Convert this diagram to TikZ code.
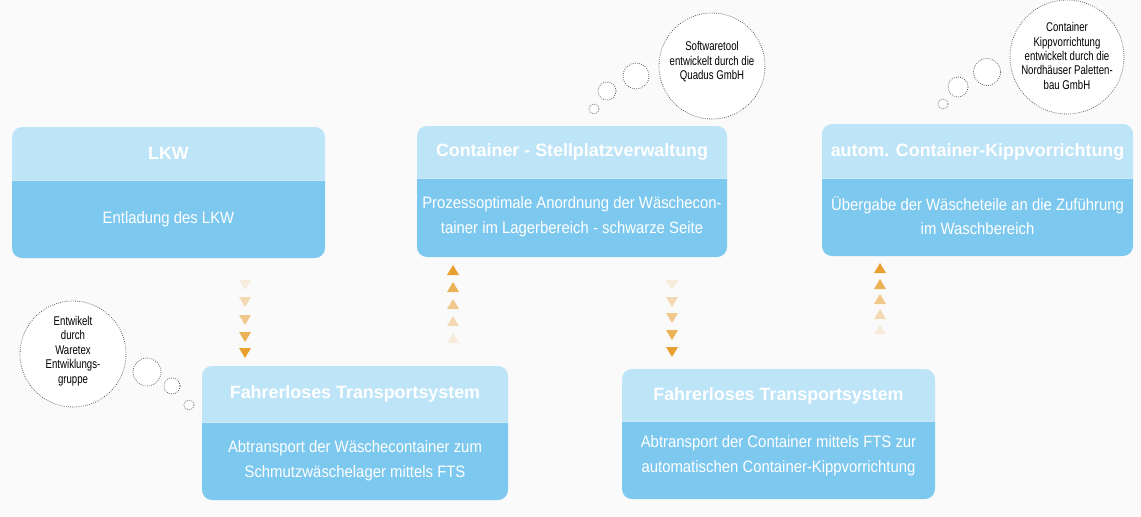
\documentclass[tikz,border=0pt]{standalone}
\usepackage{fontspec}
\setmainfont{Liberation Sans}
\newfontfamily\feldfont{Liberation Sans}[FakeStretch=0.9]
\newfontfamily\blasenfont{Liberation Sans}[FakeStretch=0.76]

\definecolor{kopfblau}{RGB}{190,228,247}
\definecolor{feldblau}{RGB}{125,200,238}
\definecolor{pfeilorange}{RGB}{232,160,48}
\definecolor{punktgrau}{RGB}{95,95,95}
\definecolor{papier}{RGB}{250,250,251}

\tikzset{every picture/.style={line width=0.75pt},
  kopf/.style={anchor=center, inner sep=0.75pt, text=white, font=\bfseries\fontsize{13.4}{16}\selectfont},
  feld/.style={anchor=center, inner sep=0.75pt, text=white, align=center, font=\feldfont\fontsize{12.4}{18.5}\selectfont},
  blase/.style={draw=punktgrau, densely dotted, fill=white, line width=0.6pt},
  blasentext/.style={anchor=center, inner sep=0.75pt, align=center, font=\blasenfont\fontsize{9.5}{10.8}\selectfont},
}

\begin{document}
\begin{tikzpicture}[x=0.75pt,y=0.75pt,yscale=-1,xscale=1]
%set diagram left start at 0, and has height of 517
\fill [papier] (0,0) rectangle (1141,517);
\useasboundingbox (0,0) rectangle (1141,517);

%Shape: Rounded Rect (LKW)
\fill [kopfblau, rounded corners=7.5pt] (12,180) -- (12,127) -- (325,127) -- (325,180);
\fill [feldblau, rounded corners=7.5pt] (12,180) -- (12,258) -- (325,258) -- (325,180);
\draw [white, opacity=0.6] (12,180) -- (325,180);
%Shape: Rounded Rect (Stellplatz)
\fill [kopfblau, rounded corners=7.5pt] (417,178) -- (417,126) -- (727,126) -- (727,178);
\fill [feldblau, rounded corners=7.5pt] (417,178) -- (417,257) -- (727,257) -- (727,178);
\draw [white, opacity=0.6] (417,178) -- (727,178);
%Shape: Rounded Rect (Kippvorrichtung)
\fill [kopfblau, rounded corners=7.5pt] (822,178) -- (822,124) -- (1133,124) -- (1133,178);
\fill [feldblau, rounded corners=7.5pt] (822,178) -- (822,256) -- (1133,256) -- (1133,178);
\draw [white, opacity=0.6] (822,178) -- (1133,178);
%Shape: Rounded Rect (FTS links)
\fill [kopfblau, rounded corners=7.5pt] (202,422) -- (202,366) -- (508,366) -- (508,422);
\fill [feldblau, rounded corners=7.5pt] (202,422) -- (202,500) -- (508,500) -- (508,422);
\draw [white, opacity=0.6] (202,422) -- (508,422);
%Shape: Rounded Rect (FTS rechts)
\fill [kopfblau, rounded corners=7.5pt] (622,421) -- (622,369) -- (935,369) -- (935,421);
\fill [feldblau, rounded corners=7.5pt] (622,421) -- (622,499) -- (935,499) -- (935,421);
\draw [white, opacity=0.6] (622,421) -- (935,421);

% Text Node
\draw (168.5,153) node [kopf] (lkw) {LKW};
\draw (168.5,219) node [feld] (lkwtext) {Entladung des LKW};
% Text Node
\draw (572,152) node [kopf] (stellplatz) {Container - Stellplatzverwaltung};
\draw (572,216.5) node [feld] (stellplatztext) {Prozessoptimale Anordnung der Wäschecon-\\tainer im Lagerbereich - schwarze Seite};
% Text Node
\draw (977.5,152) node [kopf] (kipp) {autom. Container-Kippvorrichtung};
\draw (977.5,215.5) node [feld] (kipptext) {Übergabe der Wäscheteile an die Zuführung\\im Waschbereich};
% Text Node
\draw (355,394) node [kopf] (ftsa) {Fahrerloses Transportsystem};
\draw (355,461) node [feld] (ftsatext) {Abtransport der Wäschecontainer zum\\Schmutzwäschelager mittels FTS};
% Text Node
\draw (778.5,396) node [kopf] (ftsb) {Fahrerloses Transportsystem};
\draw (778.5,455.5) node [feld] (ftsbtext) {Abtransport der Container mittels FTS zur\\automatischen Container-Kippvorrichtung};

%Shape: Triangle rows
\foreach \ty/\op in {285/0.15,302/0.35,320/0.55,337/0.8,353/1}
  \fill [pfeilorange, opacity=\op] (245,\ty) ++(-6,-5) -- ++(12,0) -- ++(-6,10) -- cycle;
\foreach \ty/\op in {270/1,287/0.8,304/0.55,321/0.35,338/0.15}
  \fill [pfeilorange, opacity=\op] (453,\ty) ++(-6,5) -- ++(12,0) -- ++(-6,-10) -- cycle;
\foreach \ty/\op in {285/0.15,302/0.35,318/0.55,335/0.8,352/1}
  \fill [pfeilorange, opacity=\op] (672,\ty) ++(-6,-5) -- ++(12,0) -- ++(-6,10) -- cycle;
\foreach \ty/\op in {268/1,284/0.8,299/0.55,314/0.35,329/0.15}
  \fill [pfeilorange, opacity=\op] (880,\ty) ++(-6,5) -- ++(12,0) -- ++(-6,-10) -- cycle;

%Shape: Circle (Waretex)
\draw [blase] (73,354) circle [radius=53];
\draw [blase] (147,372) circle [radius=14];
\draw [blase] (172,386) circle [radius=8];
\draw [blase] (189,405) circle [radius=5];
%Shape: Circle (Quadus)
\draw [blase] (712,66) circle [radius=53];
\draw [blase] (636,76) circle [radius=13];
\draw [blase] (607,91) circle [radius=9];
\draw [blase] (594,109) circle [radius=5];
%Shape: Circle (Nordhäuser)
\draw [blase] (1067,57) circle [radius=57];
\draw [blase] (987,72) circle [radius=13.5];
\draw [blase] (958,87) circle [radius=10];
\draw [blase] (943,104) circle [radius=5];

% Text Node
\draw (73,351) node [blasentext] (waretex) {Entwikelt\\durch\\Waretex\\Entwiklungs-\\gruppe};
% Text Node
\draw (712,62) node [blasentext] (quadus) {Softwaretool\\entwickelt durch die\\Quadus GmbH};
% Text Node
\draw (1067,56) node [blasentext] (nordhaeuser) {Container\\Kippvorrichtung\\entwickelt durch die\\Nordhäuser Paletten-\\bau GmbH};

\end{tikzpicture}
\end{document}
